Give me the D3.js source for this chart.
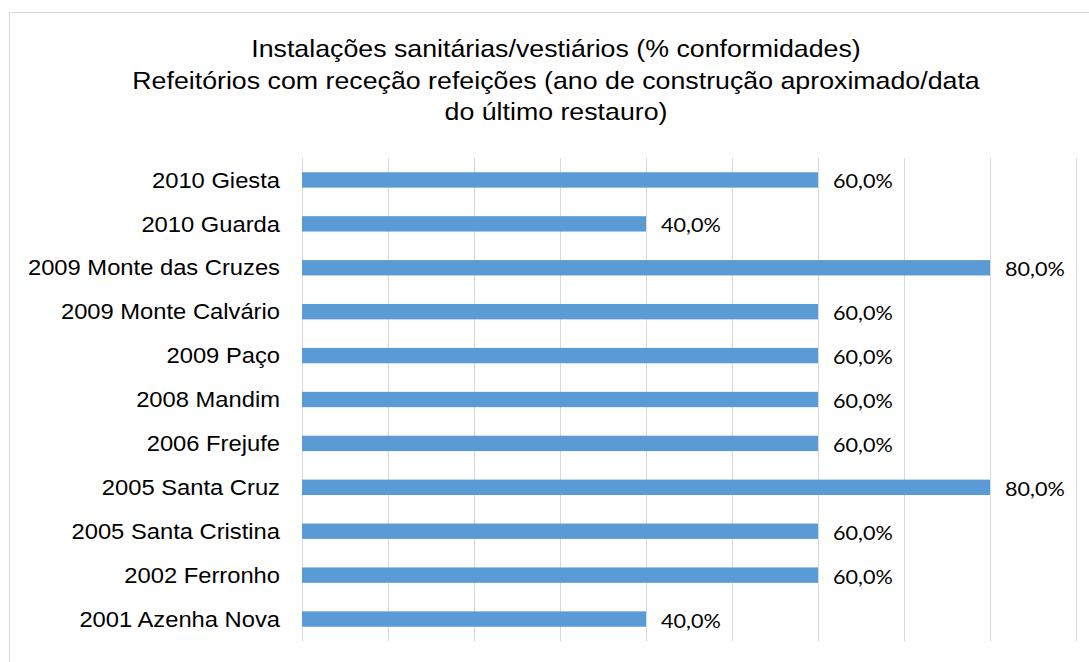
<!DOCTYPE html>
<html>
<head>
<meta charset="utf-8">
<script src="https://cdn.jsdelivr.net/npm/d3@7"></script>
<style>
  html, body { margin: 0; padding: 0; background: #fff; }
  svg { display: block; }
</style>
</head>
<body>
<svg id="chart" width="1089" height="662"></svg>
<script>
const titleLines = [
  "Instalações sanitárias/vestiários (% conformidades)",
  "Refeitórios com receção refeições (ano de construção aproximado/data",
  "do último restauro)"
];
const categories = [
  "2010 Giesta",
  "2010 Guarda",
  "2009 Monte das Cruzes",
  "2009 Monte Calvário",
  "2009 Paço",
  "2008 Mandim",
  "2006 Frejufe",
  "2005 Santa Cruz",
  "2005 Santa Cristina",
  "2002 Ferronho",
  "2001 Azenha Nova"
];
const values = [0.6, 0.4, 0.8, 0.6, 0.6, 0.6, 0.6, 0.8, 0.6, 0.6, 0.4];
const gridTicks = [0, 0.1, 0.2, 0.3, 0.4, 0.5, 0.6, 0.7, 0.8, 0.9];

const svg = d3.select("#chart");
const stretch = 1.08;
const titleStretch = 1.115;

// chart border
svg.append("rect")
  .attr("x", 9.5).attr("y", 12.5)
  .attr("width", 1200).attr("height", 800)
  .attr("fill", "#fff").attr("stroke", "#d9d9d9").attr("stroke-width", 1);

const x = d3.scaleLinear().domain([0, 0.9]).range([302, 1076]);
const y = d3.scaleBand().domain(categories).range([158, 641]).paddingInner(0.65).paddingOuter(0.325);

// gridlines
const xAxis = d3.axisBottom(x).tickValues(gridTicks).tickSize(-(641 - 158)).tickFormat("");
const gx = svg.append("g").attr("transform", "translate(0,641)").call(xAxis);
gx.select(".domain").remove();
gx.selectAll(".tick line").attr("stroke", "#d9d9d9").attr("stroke-width", 1);

// bars
svg.append("g").selectAll("rect")
  .data(categories)
  .join("rect")
  .attr("x", x(0))
  .attr("y", d => y(d))
  .attr("width", (d, i) => x(values[i]) - x(0))
  .attr("height", y.bandwidth())
  .attr("fill", "#5b9bd5");

// category labels
const yAxis = d3.axisLeft(y).tickSize(0).tickPadding(0);
const gy = svg.append("g").attr("transform", "translate(280,0)").call(yAxis);
gy.select(".domain").remove();
gy.selectAll(".tick text")
  .attr("x", 0)
  .attr("dy", "0.35em")
  .attr("transform", `scale(${stretch},1)`)
  .attr("font-family", "Liberation Sans, Arial, sans-serif")
  .attr("font-size", 22)
  .attr("fill", "#000")
  .attr("text-anchor", "end");

// value labels
const fmt = v => d3.format(".1f")(v * 100).replace(".", ",") + "%";
svg.append("g").selectAll("text")
  .data(categories)
  .join("text")
  .attr("transform", (d, i) => `translate(${x(values[i]) + 15},${y(d) + y.bandwidth() / 2 + 1.5}) scale(${stretch},1)`)
  .attr("dy", "0.35em")
  .attr("font-family", "Lato, 'Open Sans', sans-serif")
  .attr("font-size", 20)
  .attr("fill", "#000")
  .text((d, i) => fmt(values[i]));

// title
const titleY = [57, 88.5, 120];
svg.append("g").selectAll("text")
  .data(titleLines)
  .join("text")
  .attr("transform", (d, i) => `translate(556,${titleY[i]}) scale(${titleStretch},1)`)
  .attr("text-anchor", "middle")
  .attr("font-family", "Liberation Sans, Arial, sans-serif")
  .attr("font-size", 24)
  .attr("fill", "#000")
  .text(d => d);
</script>
</body>
</html>
